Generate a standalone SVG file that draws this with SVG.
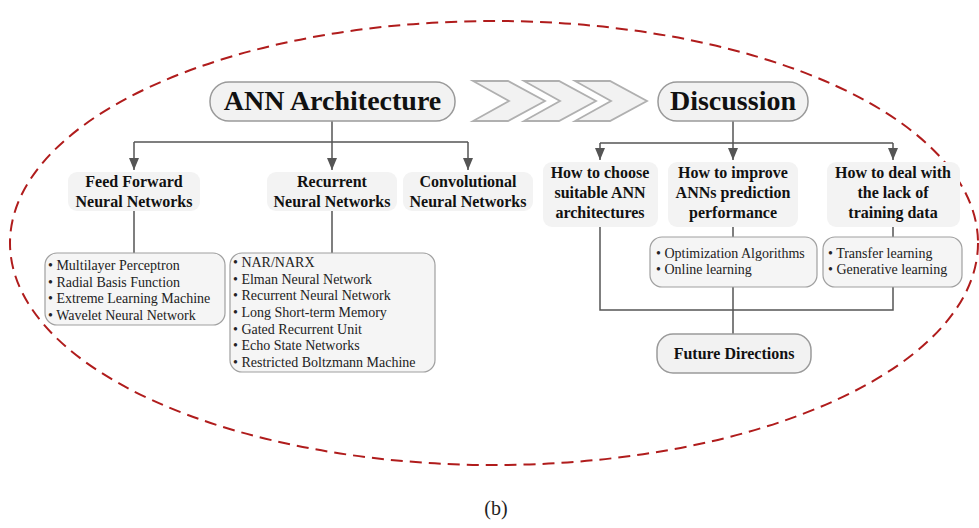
<svg xmlns="http://www.w3.org/2000/svg" width="979" height="528" viewBox="0 0 979 528">
  <style>
    .pill { fill: #f2f2f2; stroke: #9a9a9a; stroke-width: 1.5; }
    .head { fill: #f3f3f3; stroke: none; }
    .list { fill: #f5f5f5; stroke: #a0a0a0; stroke-width: 1.2; }
    .chev { fill: #f2f2f2; stroke: #b0b0b0; stroke-width: 1.8; stroke-linejoin: miter; }
    .wire { fill: none; stroke: #555; stroke-width: 1.5; }
    .big { font-family: "Liberation Serif", "Times New Roman", serif; font-weight: bold; font-size: 28px; fill: #111; text-anchor: middle; }
    .hd { font-family: "Liberation Serif", "Times New Roman", serif; font-weight: bold; font-size: 16px; fill: #111; text-anchor: middle; }
    .it { font-family: "Liberation Serif", "Times New Roman", serif; font-size: 14px; fill: #222; }
    .cap { font-family: "Liberation Serif", "Times New Roman", serif; font-size: 20px; fill: #222; text-anchor: middle; }
  </style>
  <defs>
    <marker id="arr" viewBox="0 0 12 10" refX="12" refY="5" markerWidth="12" markerHeight="10" markerUnits="userSpaceOnUse" orient="auto">
      <path d="M0,0 L12,5 L0,10 Z" fill="#555"/>
    </marker>
    <polygon id="chevron" points="0,0 35,0 72,20 35,40 0,40 36,20"/>
  </defs>

  <rect width="979" height="528" fill="#ffffff"/>

  <!-- dashed outline -->
  <ellipse cx="494" cy="243" rx="484" ry="222" fill="none" stroke="#b01c1c" stroke-width="2" stroke-dasharray="12 7"/>

  <!-- connectors -->
  <g id="connectors">
    <path class="wire" d="M332,121 V142 M134,142 H468"/>
    <path class="wire" d="M134,142 V170" marker-end="url(#arr)"/>
    <path class="wire" d="M332,142 V170" marker-end="url(#arr)"/>
    <path class="wire" d="M468,142 V170" marker-end="url(#arr)"/>
    <path class="wire" d="M134,211 V253 M332,211 V253"/>

    <path class="wire" d="M733,121 V143 M600,143 H893"/>
    <path class="wire" d="M600,143 V160" marker-end="url(#arr)"/>
    <path class="wire" d="M733,143 V160" marker-end="url(#arr)"/>
    <path class="wire" d="M893,143 V160" marker-end="url(#arr)"/>
    <path class="wire" d="M600,227 V310 H893 V287 M893,227 V237 M733,227 V237 M733,287 V334"/>
  </g>

  <!-- flow arrows between the two sections -->
  <g id="chevrons">
    <use href="#chevron" class="chev" x="473" y="81"/>
    <use href="#chevron" class="chev" x="524" y="81"/>
    <use href="#chevron" class="chev" x="575" y="81"/>
  </g>

  <g id="ann-architecture">
    <rect class="pill" x="210" y="82" width="245" height="39" rx="19"/>
    <text class="big" x="332.5" y="110">ANN Architecture</text>
  </g>

  <g id="discussion">
    <rect class="pill" x="658" y="82" width="150" height="39" rx="19"/>
    <text class="big" x="733" y="110">Discussion</text>
  </g>

  <g id="feed-forward">
    <rect class="head" x="68" y="172" width="132" height="39" rx="9"/>
    <text class="hd" x="134" y="187">Feed Forward</text>
    <text class="hd" x="134" y="207">Neural Networks</text>
  </g>

  <g id="recurrent">
    <rect class="head" x="267" y="172" width="130" height="39" rx="9"/>
    <text class="hd" x="332" y="187">Recurrent</text>
    <text class="hd" x="332" y="207">Neural Networks</text>
  </g>

  <g id="convolutional">
    <rect class="head" x="403" y="172" width="130" height="39" rx="9"/>
    <text class="hd" x="468" y="187">Convolutional</text>
    <text class="hd" x="468" y="207">Neural Networks</text>
  </g>

  <g id="ffnn-list">
    <rect class="list" x="45" y="253" width="180" height="72" rx="12"/>
    <text class="it" x="48" y="270">• Multilayer Perceptron</text>
    <text class="it" x="48" y="287">• Radial Basis Function</text>
    <text class="it" x="48" y="303">• Extreme Learning Machine</text>
    <text class="it" x="48" y="320">• Wavelet Neural Network</text>
  </g>

  <g id="rnn-list">
    <rect class="list" x="230" y="253" width="205" height="119" rx="12"/>
    <text class="it" x="233" y="267">• NAR/NARX</text>
    <text class="it" x="233" y="284">• Elman Neural Network</text>
    <text class="it" x="233" y="300">• Recurrent Neural Network</text>
    <text class="it" x="233" y="317">• Long Short-term Memory</text>
    <text class="it" x="233" y="334">• Gated Recurrent Unit</text>
    <text class="it" x="233" y="350">• Echo State Networks</text>
    <text class="it" x="233" y="367">• Restricted Boltzmann Machine</text>
  </g>

  <g id="choose-architecture">
    <rect class="head" x="543" y="162" width="115" height="65" rx="9"/>
    <text class="hd" x="600" y="178">How to choose</text>
    <text class="hd" x="600" y="198">suitable ANN</text>
    <text class="hd" x="600" y="218">architectures</text>
  </g>

  <g id="improve-performance">
    <rect class="head" x="668" y="162" width="130" height="65" rx="9"/>
    <text class="hd" x="733" y="178">How to improve</text>
    <text class="hd" x="733" y="198">ANNs prediction</text>
    <text class="hd" x="733" y="218">performance</text>
  </g>

  <g id="lack-of-data">
    <rect class="head" x="827" y="162" width="133" height="65" rx="9"/>
    <text class="hd" x="893" y="178">How to deal with</text>
    <text class="hd" x="893" y="198">the lack of</text>
    <text class="hd" x="893" y="218">training data</text>
  </g>

  <g id="improve-list">
    <rect class="list" x="650" y="237" width="167" height="50" rx="12"/>
    <text class="it" x="656" y="258">• Optimization Algorithms</text>
    <text class="it" x="656" y="274">• Online learning</text>
  </g>

  <g id="data-list">
    <rect class="list" x="823" y="237" width="139" height="50" rx="12"/>
    <text class="it" x="828" y="258">• Transfer learning</text>
    <text class="it" x="828" y="274">• Generative learning</text>
  </g>

  <g id="future-directions">
    <rect class="pill" x="657" y="334" width="154" height="39" rx="16"/>
    <text class="hd" x="734" y="359">Future Directions</text>
  </g>

  <text class="cap" x="496" y="515">(b)</text>
</svg>
